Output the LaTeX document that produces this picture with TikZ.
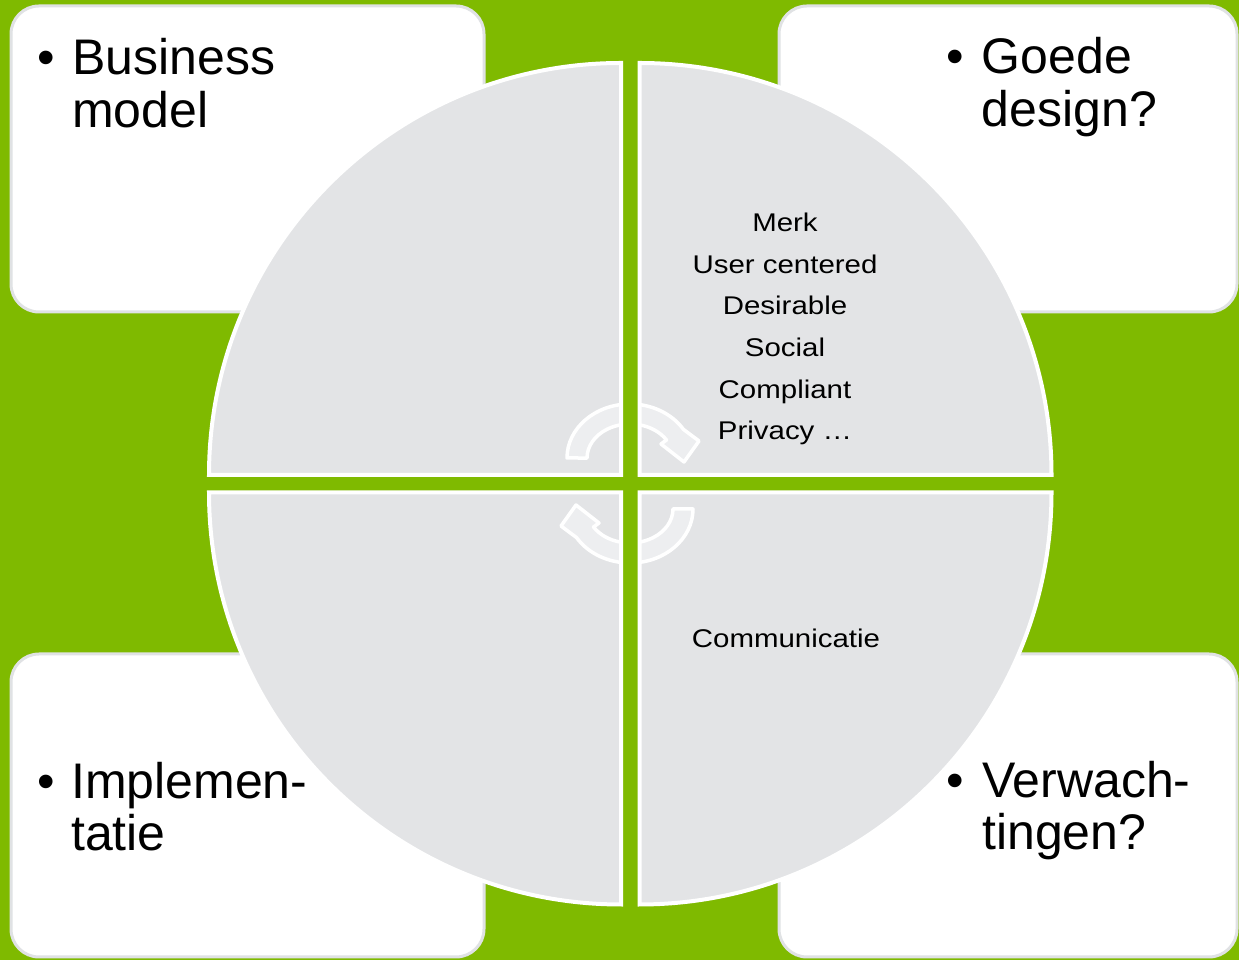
\documentclass[tikz,border=0pt]{standalone}
\usepackage{fontspec}
\setmainfont{Liberation Sans}
\newfontfamily\smallsans[FakeStretch=1.15]{Liberation Sans}
\definecolor{bggreen}{HTML}{7FBA00}
\definecolor{quadgray}{HTML}{E3E4E6}
\definecolor{arrowfill}{HTML}{EDEEF0}
\definecolor{boxline}{HTML}{E0E2E4}
\tikzset{
  qtl/.style={insert path={(621,485) -- (209,485) arc[start angle=180,end angle=90,radius=412pt] -- cycle}},
  qtr/.style={insert path={(639.5,485) -- (639.5,897) arc[start angle=90,end angle=0,radius=412pt] -- cycle}},
  qbr/.style={insert path={(639.5,467.5) -- (1051.5,467.5) arc[start angle=0,end angle=-90,radius=412pt] -- cycle}},
  qbl/.style={insert path={(621,467.5) -- (621,55.5) arc[start angle=270,end angle=180,radius=412pt] -- cycle}},
  cornerbox/.style={fill=white, draw=boxline, line width=3pt, rounded corners=28pt},
  cyclearrow/.style={fill=arrowfill, draw=white, line width=3.5pt, line join=round},
  bigtxt/.style={inner sep=0pt, font=\fontsize{50}{53}\selectfont, text=black},
  smalltxt/.style={inner sep=0pt, font=\smallsans\fontsize{25.6}{30}\selectfont, text=black, anchor=base},
}
\begin{document}
\begin{tikzpicture}[x=1pt,y=1pt]
\useasboundingbox (0,0) rectangle (1239,960);
\fill[bggreen] (0,0) rectangle (1239,960);
% corner boxes
\draw[cornerbox] (11,648) rectangle (484,954);
\draw[cornerbox] (779,648) rectangle (1237,954);
\draw[cornerbox] (11,3) rectangle (484,306);
\draw[cornerbox] (779,3) rectangle (1237,306);
% quadrants fill
\fill[quadgray, qtl];
\fill[quadgray, qtr];
\fill[quadgray, qbr];
\fill[quadgray, qbl];
% cycle arrows clipped to quadrants
\begin{scope}
  \clip[qtl, qtr, qbr, qbl];
  \draw[cyclearrow] (567,502) arc[start angle=180,end angle=32,x radius=63pt,y radius=54pt]
     -- (699,519) -- (684,498) -- (661,516) -- (666.5,520)
     arc[start angle=32,end angle=180,x radius=43pt,y radius=34pt] -- cycle;
  \begin{scope}[rotate around={180:(630,476.5)}]
  \draw[cyclearrow] (567,502) arc[start angle=180,end angle=32,x radius=63pt,y radius=54pt]
     -- (699,519) -- (684,498) -- (661,516) -- (666.5,520)
     arc[start angle=32,end angle=180,x radius=43pt,y radius=34pt] -- cycle;
  \end{scope}
\end{scope}
% quadrant outlines
\draw[white, line width=4pt, line join=miter, qtl];
\draw[white, line width=4pt, line join=miter, qtr];
\draw[white, line width=4pt, line join=miter, qbr];
\draw[white, line width=4pt, line join=miter, qbl];
% corner texts
\node[bigtxt, anchor=base] (bul1) at (46.5,885) {•};
\node[bigtxt, anchor=base west] (bm1) at (72,885) {Business};
\node[bigtxt, anchor=base west] (bm2) at (72,832) {model};
\node[bigtxt, anchor=base] (bul2) at (955.5,886) {•};
\node[bigtxt, anchor=base west] (gd1) at (981.5,886) {Goede};
\node[bigtxt, anchor=base west] (gd2) at (981.5,833) {design?};
\node[bigtxt, anchor=base] (bul3) at (46.5,161) {•};
\node[bigtxt, anchor=base west] (im1) at (71,161) {Implemen-};
\node[bigtxt, anchor=base west] (im2) at (71,109) {tatie};
\node[bigtxt, anchor=base] (bul4) at (955.5,162) {•};
\node[bigtxt, anchor=base west] (vw1) at (982,162) {Verwach-};
\node[bigtxt, anchor=base west] (vw2) at (982,110) {tingen?};
% quadrant texts
\node[smalltxt] (t1) at (785,728.3) {Merk};
\node[smalltxt] (t2) at (785,686.7) {User centered};
\node[smalltxt] (t3) at (785,645) {Desirable};
\node[smalltxt] (t4) at (785,603.3) {Social};
\node[smalltxt] (t5) at (785,561.7) {Compliant};
\node[smalltxt] (t6) at (785,520) {Privacy …};
\node[smalltxt] (t7) at (786,312.7) {Communicatie};
\end{tikzpicture}
\end{document}
